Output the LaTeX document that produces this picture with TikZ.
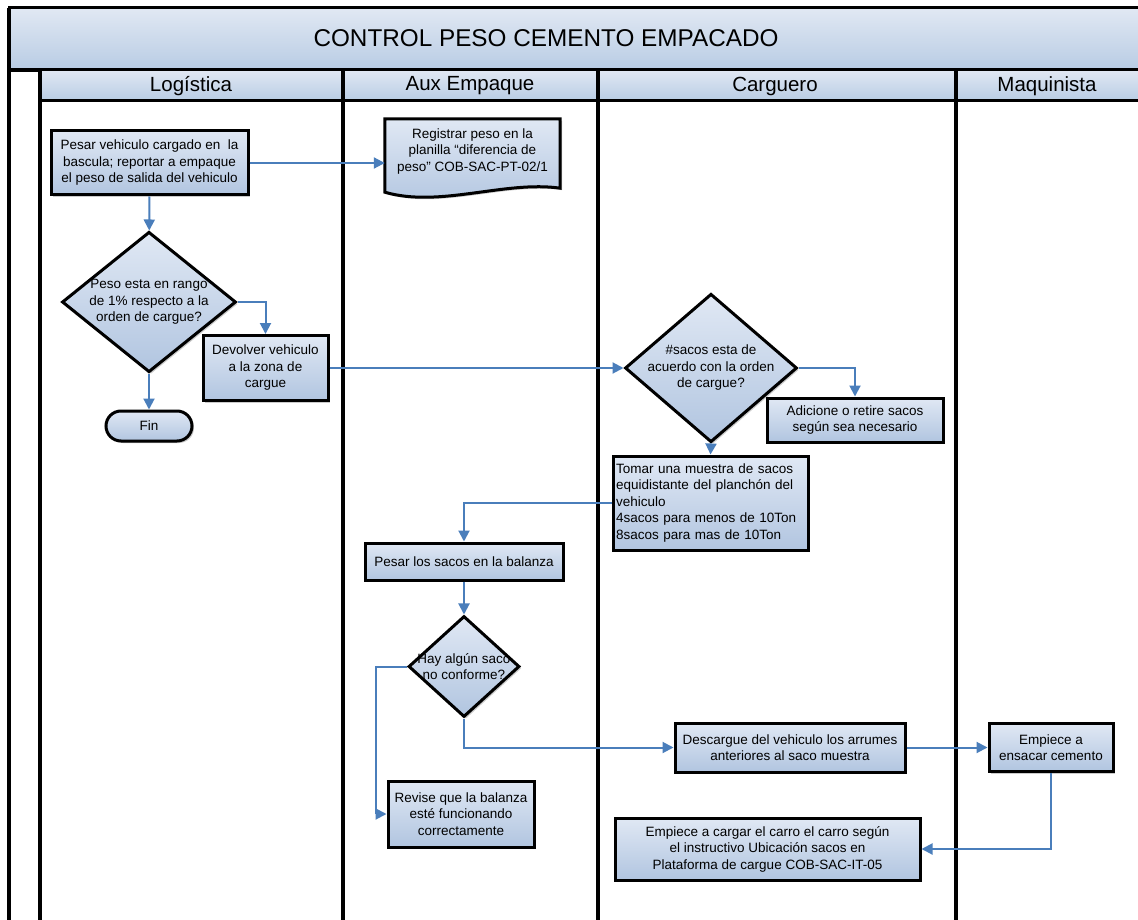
\documentclass[tikz,border=0pt]{standalone}
\usepackage{fontspec}
\setmainfont{Liberation Sans}
\usetikzlibrary{shapes.geometric,arrows.meta,shadows}
\definecolor{lanea}{HTML}{E1E8F3}
\definecolor{laneb}{HTML}{B8CCE4}
\definecolor{boxa}{HTML}{E0E8F4}
\definecolor{boxb}{HTML}{B1C5E0}
\definecolor{flowblue}{HTML}{4A7EBB}
\begin{document}
\begin{tikzpicture}[x=1pt,y=-1pt]
\tikzset{proc/.style = {draw, line width=3pt, top color=boxa, bottom color=boxb,
    drop shadow={shadow xshift=2pt,shadow yshift=-2pt,fill=black!40,opacity=0.5},
    font=\fontsize{13.5}{16.5}\selectfont, align=center, inner sep=2pt},
  decision/.style = {proc, diamond, inner sep=-6pt},
  term/.style = {proc, rounded corners=15pt},
  flow/.style = {draw=flowblue, line width=2pt, -{Triangle[length=11pt,width=11pt]}},
  lane/.style = {line width=3.5pt},
  headcell/.style = {draw, line width=3pt, top color=lanea, bottom color=laneb},
  headtext/.style = {font=\fontsize{20.5}{24}\selectfont}}
\useasboundingbox (0,0) rectangle (1138,920);
\clip (0,0) rectangle (1138,920);
\fill[white] (0,0) rectangle (1138,920);
% title and lanes
\path[headcell] (9,8) rectangle (1160,70);
\node[font=\fontsize{24.3}{28}\selectfont] (title) at (546,38) {CONTROL PESO CEMENTO EMPACADO};
\path[headcell] (40,70) rectangle (343,101);
\path[headcell] (343,70) rectangle (598,101);
\path[headcell] (598,70) rectangle (956,101);
\path[headcell] (956,70) rectangle (1160,101);
\node[headtext] (hlog) at (191,86) {Logística};
\node[headtext] (haux) at (470,86) {Aux Empaque};
\node[headtext] (hcar) at (775,86) {Carguero};
\node[headtext] (hmaq) at (1047,86) {Maquinista};
\draw[lane] (9,8) -- (9,925);
\draw[lane] (9,70) -- (40,70);
\foreach \x in {40,343,598,956}
  \draw[lane] (\x,70) -- (\x,925);

% nodes
\node[proc, minimum width=197, minimum height=64] (pesar) at (149.5,163)
  {Pesar vehiculo cargado en\ \ la\\bascula; reportar a empaque\\el peso de salida del vehiculo};
\node[font=\fontsize{13.5}{16.5}\selectfont, align=center, minimum width=175, minimum height=65, inner sep=0pt] (reg) at (472.5,151.5) {};
\path[draw, line width=3pt, top color=boxa, bottom color=boxb,
    drop shadow={shadow xshift=2pt,shadow yshift=-2pt,fill=black!40,opacity=0.5}]
  (reg.north west) -- (reg.north east) -- ([yshift=-4pt]reg.south east)
  .. controls ([xshift=-55pt,yshift=4pt]reg.south east) and ([xshift=55pt,yshift=-24pt]reg.south west)
  .. ([yshift=-8pt]reg.south west) -- cycle;
\node[font=\fontsize{13.5}{16.5}\selectfont, align=center] (regtxt) at (reg)
  {Registrar peso en la\\planilla “diferencia de\\peso” COB-SAC-PT-02/1};
\node[decision, minimum width=174, minimum height=130] (d1) at (149,302)
  {Peso esta en rango\\de 1\% respecto a la\\orden de cargue?};
\node[proc, minimum width=125, minimum height=65] (dev) at (265.5,368)
  {Devolver vehiculo\\a la zona de\\cargue};
\node[term, minimum width=86, minimum height=30] (fin) at (149,426) {Fin};
\node[decision, minimum width=172, minimum height=128] (d2) at (711,368)
  {\#sacos esta de\\acuerdo con la orden\\de cargue?};
\node[proc, minimum width=176, minimum height=44] (adic) at (855,420)
  {Adicione o retire sacos\\según sea necesario};
\node[proc, minimum width=195, minimum height=94, text width=189, align=left] (tomar) at (710.5,503)
  {Tomar una muestra de sacos\\equidistante del planchón del\\vehiculo\\4sacos para menos de 10Ton\\8sacos para mas de 10Ton};
\node[proc, minimum width=198, minimum height=37] (psacos) at (464,561.5)
  {Pesar los sacos en la balanza};
\node[decision, minimum width=111, minimum height=101] (d3) at (464,666.5)
  {Hay algún saco\\no conforme?};
\node[proc, minimum width=146, minimum height=66] (rev) at (461,814)
  {Revise que la balanza\\esté funcionando\\correctamente};
\node[proc, minimum width=230, minimum height=49] (desc) at (790,747.5)
  {Descargue del vehiculo los arrumes\\anteriores al saco muestra};
\node[proc, minimum width=124, minimum height=48] (ens) at (1051,747.5)
  {Empiece a\\ensacar cemento};
\node[proc, minimum width=305, minimum height=62] (emp) at (767.5,849)
  {Empiece a cargar el carro el carro según\\el instructivo Ubicación sacos en\\Plataforma de cargue COB-SAC-IT-05};

% connectors
\draw[flow] (pesar.east) -- (pesar.east -| reg.west);
\draw[flow] (pesar) -- (d1);
\draw[flow] (d1.east) -| (dev.north);
\draw[flow] (d1.south) -- (fin.north);
\draw[flow] (dev.east) -- (d2.west);
\draw[flow] (d2.east) -| (adic.north);
\draw[flow] (d2.south) -- (tomar.north);
\draw[flow] (tomar.west) -| (psacos.north);
\draw[flow] (psacos) -- (d3);
\draw[flow] (d3.west) -- ([xshift=-31pt]d3.west) |- (rev.west);
\draw[flow] (d3.south) |- (desc.west);
\draw[flow] (desc.east) -- (ens.west);
\draw[flow] (ens.south) |- (emp.east);
\end{tikzpicture}
\end{document}
